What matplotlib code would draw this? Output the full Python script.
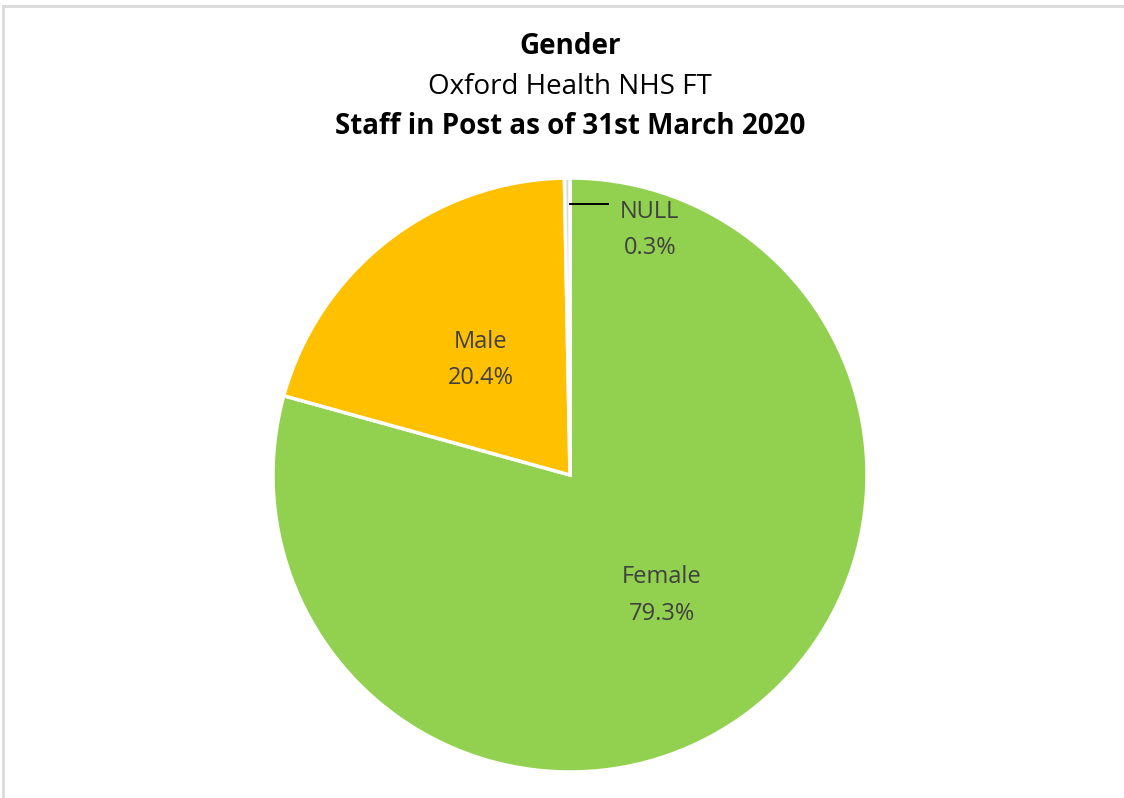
import numpy as np
import matplotlib
matplotlib.use("Agg")
import matplotlib.pyplot as plt
from matplotlib.lines import Line2D

plt.rcParams['font.family'] = ['Open Sans', 'DejaVu Sans']

# staff in post by gender, percent of headcount
categories = ['Female', 'Male', 'NULL']
shares = [79.3, 20.4, 0.3]
colours = ['#92D050', '#FFC000', '#D9D9D9']

fig = plt.figure(figsize=(11.24, 7.98), dpi=100)

# chart area frame (only top and left edges fall inside the canvas)
fig.add_artist(Line2D([3 / 1124, 1.0], [1 - 6 / 798, 1 - 6 / 798],
                      color='#D9D9D9', lw=2, transform=fig.transFigure))
fig.add_artist(Line2D([3 / 1124, 3 / 1124], [0.0, 1 - 6 / 798],
                      color='#D9D9D9', lw=2, transform=fig.transFigure))

fig.text(0.5071, 1 - 47 / 798, 'Gender', ha='center', va='center',
         fontsize=20, fontweight='bold', color='black')
fig.text(0.5071, 1 - 87 / 798, 'Oxford Health NHS FT', ha='center',
         va='center', fontsize=20, color='black')
fig.text(0.5071, 1 - 126 / 798, 'Staff in Post as of 31st March 2020',
         ha='center', va='center', fontsize=20, fontweight='bold',
         color='black')

cx, cy, r = 570 / 1124, 1 - 475 / 798, 297
ax = fig.add_axes([cx - r / 1124, cy - r / 798, 2 * r / 1124, 2 * r / 798])
wedges, _ = ax.pie(shares, colors=colours, startangle=90, counterclock=False,
                   radius=1.0,
                   wedgeprops=dict(edgecolor='white', linewidth=2.5))
ax.set_xlim(-1, 1)
ax.set_ylim(-1, 1)
ax.set_aspect('equal')
ax.axis('off')

lbl_kw = dict(ha='center', va='center', fontsize=17, color='#404040',
              linespacing=1.7)

# in-slice labels along each wedge's bisector
for w, name, v, dist in zip(wedges[:2], categories[:2], shares[:2],
                            [0.51, 0.49]):
    mid = np.deg2rad((w.theta1 + w.theta2) / 2)
    ax.text(dist * np.cos(mid), dist * np.sin(mid), f'{name}\n{v:.1f}%',
            **lbl_kw)

# the small slice gets an outside label with a leader line
ax.plot([0.0, 0.128], [0.912, 0.912], color='black', lw=1.4)
ax.text(0.269, 0.825, f'{categories[2]}\n{shares[2]:.1f}%', **lbl_kw)

fig.savefig('out.png', dpi=100, facecolor='white')
